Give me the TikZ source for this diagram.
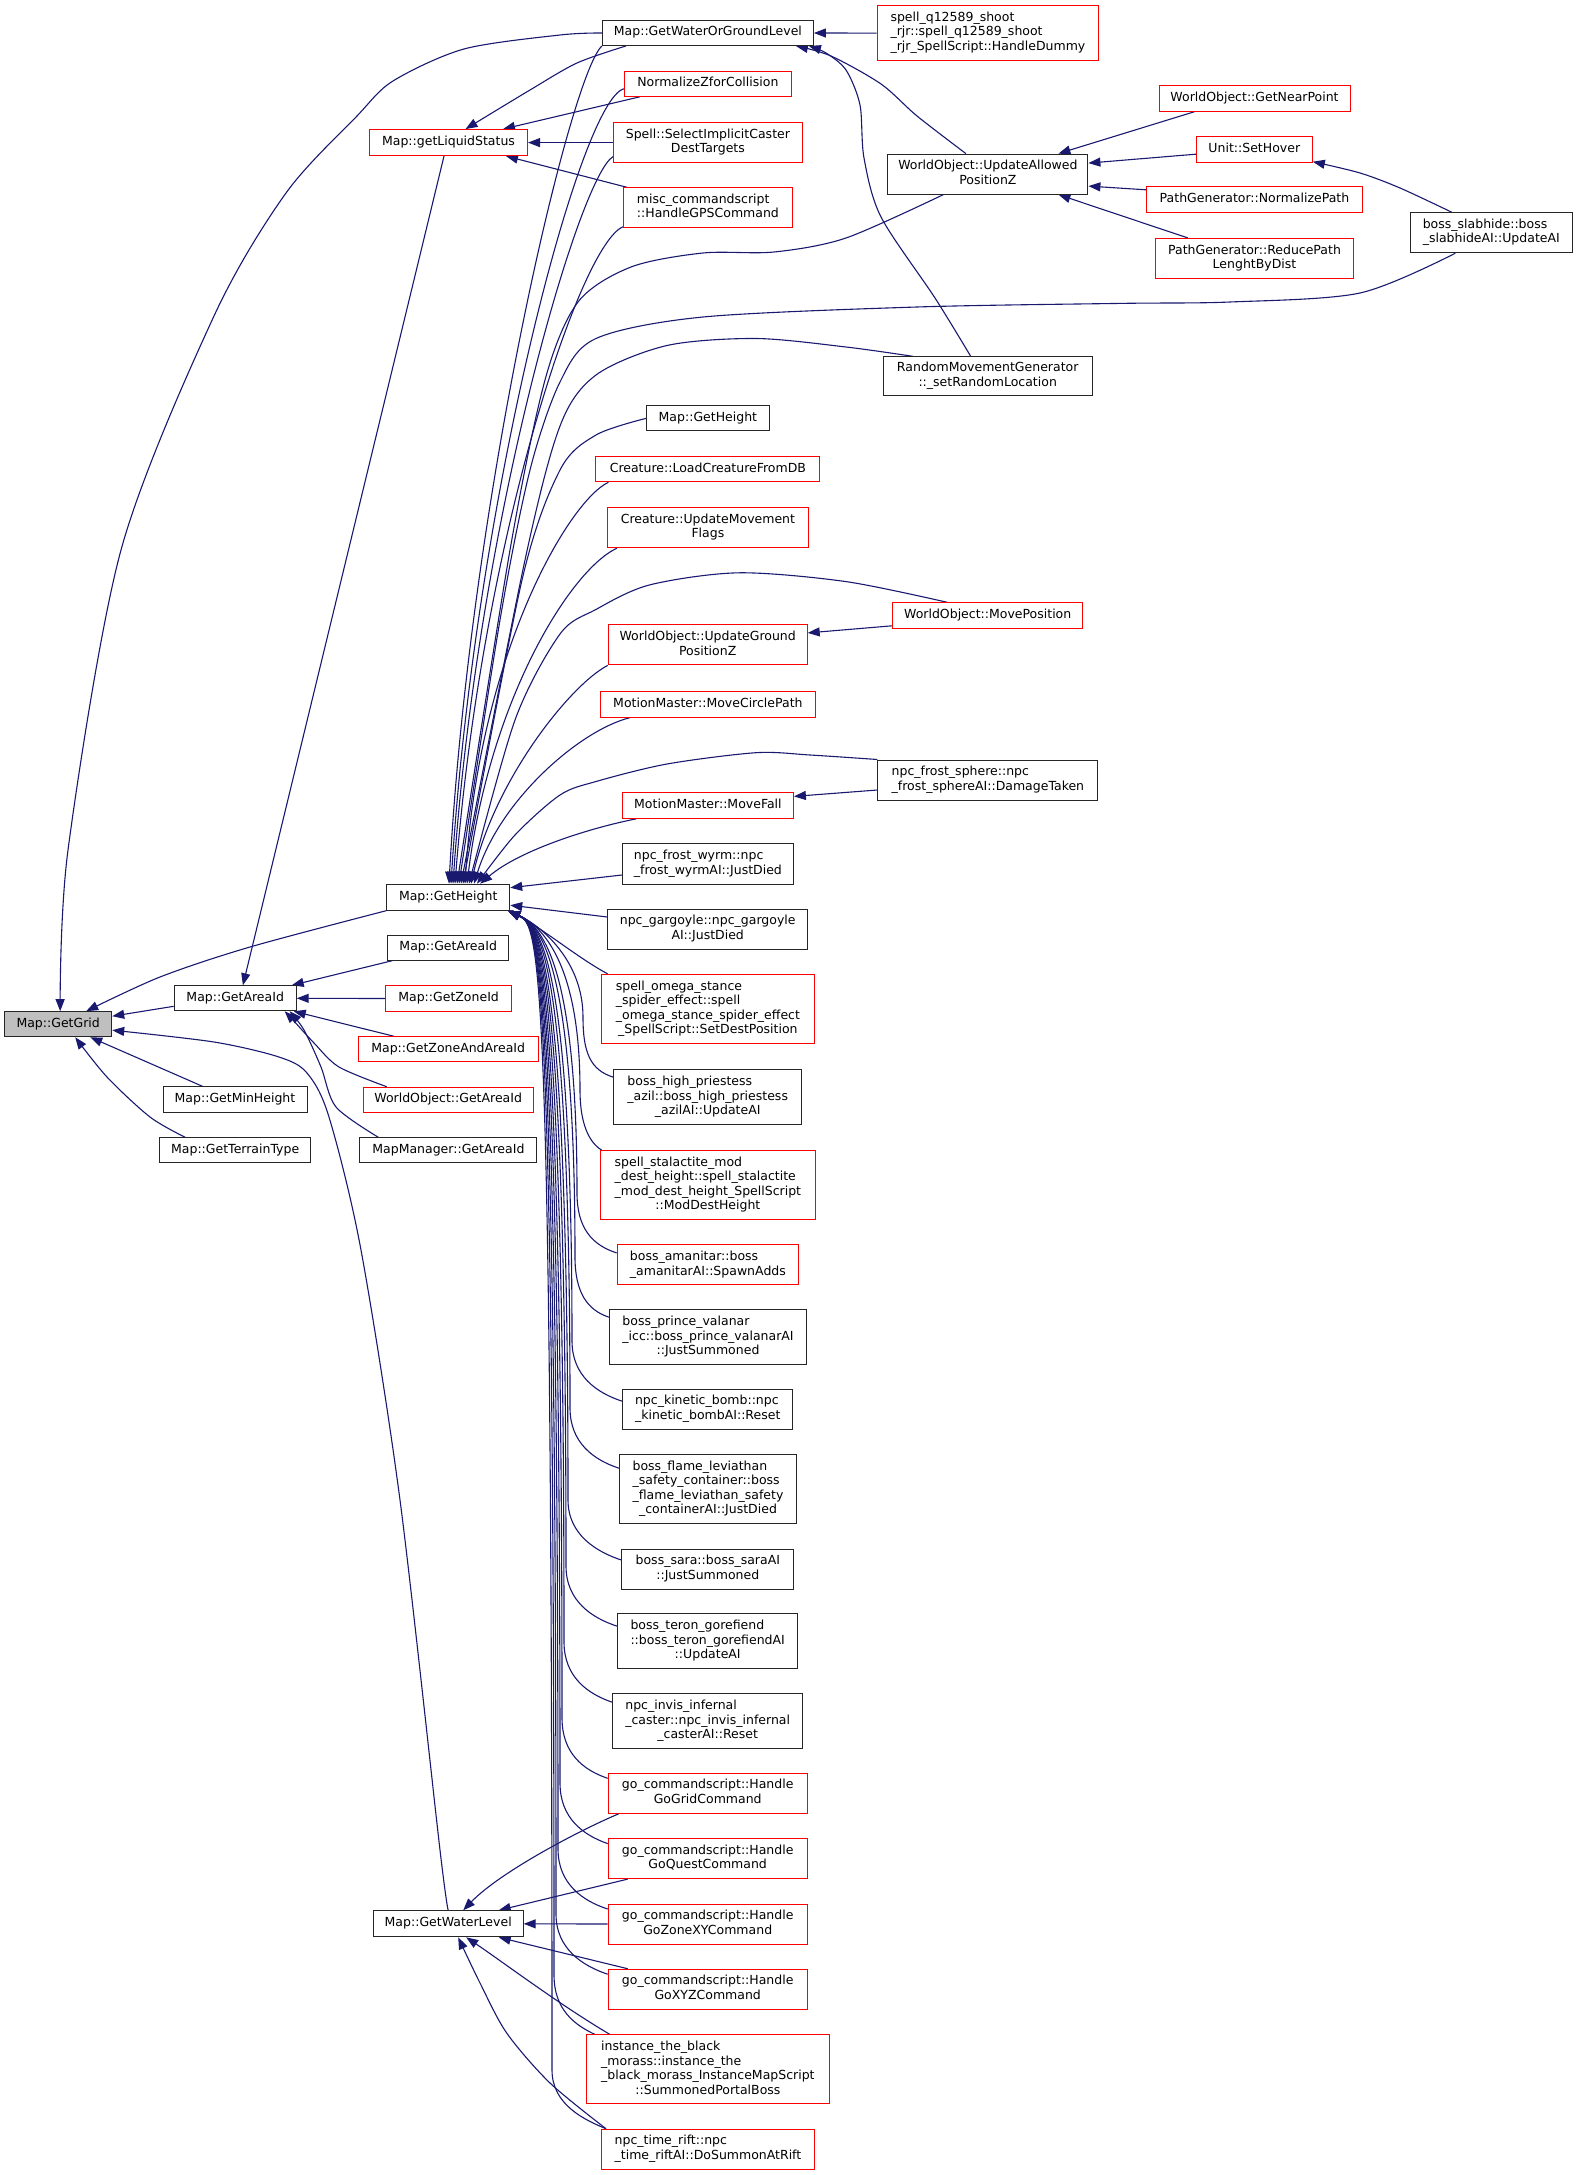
\documentclass[tikz,border=0pt]{standalone}
\usepackage{fontspec}
\setmainfont{DejaVu Sans}
\usetikzlibrary{arrows.meta,calc,backgrounds}
\definecolor{edgec}{HTML}{191970}
\definecolor{gfill}{HTML}{BFBFBF}
\newcommand\onel[1]{\begin{tabular}{@{}c@{}}#1\end{tabular}}
\newcommand\mlab[2]{\begin{tabular}{@{}l@{}}#1\\\multicolumn{1}{@{}c@{}}{#2}\end{tabular}}
\begin{document}
\begin{tikzpicture}[x=1pt,y=-1pt,
 every node/.style={font=\fontsize{12.5}{14.5}\selectfont, inner sep=0pt},
 kbox/.style={draw=black!85, line width=1pt, fill=white, rectangle},
 rbox/.style={draw=red, line width=1pt, fill=white, rectangle},
 sz/.style 2 args={minimum width=#1pt, minimum height=#2pt},
 edge/.style={draw=edgec, line width=1.1pt, -{Triangle[length=12pt,width=9pt]}}
]
\useasboundingbox (0,0) rectangle (1577,2175);
% column 1-3
\node[kbox, fill=gfill, sz={107}{25}] (gg) at (58.2,1024.2) {\onel{Map::GetGrid}};
\node[kbox, sz={122}{25}] (ga) at (235.2,998.3) {\onel{Map::GetAreaId}};
\node[kbox, sz={144}{26}] (gmh) at (235,1099.8) {\onel{Map::GetMinHeight}};
\node[kbox, sz={151}{25}] (gtt) at (235.2,1150.3) {\onel{Map::GetTerrainType}};
\node[rbox, sz={158}{26}] (gls) at (448.5,142.6) {\onel{Map::getLiquidStatus}};
\node[kbox, sz={123}{26}] (gh) at (448.2,897.2) {\onel{Map::GetHeight}};
\node[kbox, sz={121}{25}] (ga2) at (448.2,947.7) {\onel{Map::GetAreaId}};
\node[rbox, sz={126}{26}] (gz) at (448.6,998.5) {\onel{Map::GetZoneId}};
\node[rbox, sz={180}{25}] (gza) at (448.2,1049.2) {\onel{Map::GetZoneAndAreaId}};
\node[rbox, sz={170}{25}] (woga) at (448.2,1099.7) {\onel{WorldObject::GetAreaId}};
\node[kbox, sz={177}{25}] (mmga) at (448.4,1150.3) {\onel{MapManager::GetAreaId}};
\node[kbox, sz={150}{26}] (gwl) at (448.2,1923.8) {\onel{Map::GetWaterLevel}};
% column 4
\node[kbox, sz={211}{25}] (gwogl) at (707.9,33) {\onel{Map::GetWaterOrGroundLevel}};
\node[rbox, sz={167}{25}] (nzc) at (707.9,83.8) {\onel{NormalizeZforCollision}};
\node[rbox, sz={188.5}{40}] (sic) at (707.9,142.6) {\mlab{Spell::SelectImplicitCaster}{DestTargets}};
\node[rbox, sz={169}{40}] (misc) at (707.9,207.8) {\mlab{misc\_commandscript}{::HandleGPSCommand}};
\node[kbox, sz={123}{25}] (gh2) at (707.9,418.4) {\onel{Map::GetHeight}};
\node[rbox, sz={224}{25}] (lcdb) at (707.9,469.3) {\onel{Creature::LoadCreatureFromDB}};
\node[rbox, sz={201}{40}] (umf) at (707.9,527.7) {\mlab{Creature::UpdateMovement}{Flags}};
\node[rbox, sz={199}{40}] (ugpz) at (707.7,644.9) {\mlab{WorldObject::UpdateGround}{PositionZ}};
\node[rbox, sz={215}{26}] (mcp) at (707.9,704.2) {\onel{MotionMaster::MoveCirclePath}};
\node[rbox, sz={171}{26}] (mf) at (707.9,805.4) {\onel{MotionMaster::MoveFall}};
\node[kbox, sz={171}{41}] (nfw) at (707.9,864) {\mlab{npc\_frost\_wyrm::npc}{\_frost\_wyrmAI::JustDied}};
\node[kbox, sz={200}{40}] (ngar) at (707.7,929) {\mlab{npc\_gargoyle::npc\_gargoyle}{AI::JustDied}};
\node[rbox, sz={213.5}{69.5}] (som) at (707.9,1009.1) {\mlab{spell\_omega\_stance\\\_spider\_effect::spell\\\_omega\_stance\_spider\_effect}{\_SpellScript::SetDestPosition}};
\node[kbox, sz={187.5}{55}] (bhp) at (707.7,1097.2) {\mlab{boss\_high\_priestess\\\_azil::boss\_high\_priestess}{\_azilAI::UpdateAI}};
\node[rbox, sz={215}{69}] (sst) at (707.9,1185.3) {\mlab{spell\_stalactite\_mod\\\_dest\_height::spell\_stalactite\\\_mod\_dest\_height\_SpellScript}{::ModDestHeight}};
\node[rbox, sz={181.5}{40}] (bam) at (707.9,1264.9) {\mlab{boss\_amanitar::boss}{\_amanitarAI::SpawnAdds}};
\node[kbox, sz={197}{55}] (bpv) at (708,1337.2) {\mlab{boss\_prince\_valanar\\\_icc::boss\_prince\_valanarAI}{::JustSummoned}};
\node[kbox, sz={170}{40}] (nkb) at (707.7,1409.2) {\mlab{npc\_kinetic\_bomb::npc}{\_kinetic\_bombAI::Reset}};
\node[kbox, sz={177}{69}] (bfl) at (708,1489.2) {\mlab{boss\_flame\_leviathan\\\_safety\_container::boss\\\_flame\_leviathan\_safety}{\_containerAI::JustDied}};
\node[kbox, sz={172}{40}] (bsa) at (707.8,1569) {\mlab{boss\_sara::boss\_saraAI}{::JustSummoned}};
\node[kbox, sz={180}{55}] (btg) at (707.7,1641.2) {\mlab{boss\_teron\_gorefiend\\::boss\_teron\_gorefiendAI}{::UpdateAI}};
\node[kbox, sz={190}{55}] (nii) at (707.7,1721.2) {\mlab{npc\_invis\_infernal\\\_caster::npc\_invis\_infernal}{\_casterAI::Reset}};
\node[rbox, sz={199}{40}] (ggc) at (707.7,1793.3) {\mlab{go\_commandscript::Handle}{GoGridCommand}};
\node[rbox, sz={199}{40}] (gqc) at (707.7,1858.6) {\mlab{go\_commandscript::Handle}{GoQuestCommand}};
\node[rbox, sz={199}{40}] (gzc) at (707.7,1924) {\mlab{go\_commandscript::Handle}{GoZoneXYCommand}};
\node[rbox, sz={199}{40}] (gxc) at (707.7,1989.2) {\mlab{go\_commandscript::Handle}{GoXYZCommand}};
\node[rbox, sz={243}{69}] (ibm) at (707.9,2069.4) {\mlab{instance\_the\_black\\\_morass::instance\_the\\\_black\_morass\_InstanceMapScript}{::SummonedPortalBoss}};
\node[rbox, sz={213}{40}] (ntr) at (708,2149.2) {\mlab{npc\_time\_rift::npc}{\_time\_riftAI::DoSummonAtRift}};
% column 5-7
\node[rbox, sz={221.5}{55}] (sq) at (987.9,33.1) {\mlab{spell\_q12589\_shoot\\\_rjr::spell\_q12589\_shoot}{\_rjr\_SpellScript::HandleDummy}};
\node[kbox, sz={200}{40}] (uapz) at (987.9,174.1) {\mlab{WorldObject::UpdateAllowed}{PositionZ}};
\node[kbox, sz={209}{39}] (rmg) at (987.7,376.3) {\mlab{RandomMovementGenerator}{::\_setRandomLocation}};
\node[rbox, sz={190}{26}] (mp) at (987.7,615.8) {\onel{WorldObject::MovePosition}};
\node[kbox, sz={220}{40}] (nfs) at (987.9,780) {\mlab{npc\_frost\_sphere::npc}{\_frost\_sphereAI::DamageTaken}};
\node[rbox, sz={191}{26}] (gnp) at (1254.5,98.2) {\onel{WorldObject::GetNearPoint}};
\node[rbox, sz={116}{26}] (sh) at (1254.3,149.2) {\onel{Unit::SetHover}};
\node[rbox, sz={216}{26}] (np) at (1254.5,199.8) {\onel{PathGenerator::NormalizePath}};
\node[rbox, sz={198}{40}] (rp) at (1254.5,258.5) {\mlab{PathGenerator::ReducePath}{LenghtByDist}};
\node[kbox, sz={162}{40}] (bsh) at (1491.3,232.7) {\mlab{boss\_slabhide::boss}{\_slabhideAI::UpdateAI}};

\begin{pgfonlayer}{background}
% callers of GetGrid
\draw[edge] plot[smooth] coordinates {(gwogl.west) (560,35) (464,49) (393,81) (357,116) (286,193) (214,316) (121,550) (68,850) ($(gg.north)+(2,0)$)};
\draw[edge] plot[smooth] coordinates {(gh.south west) (250,947) (160,977) ($(gg.north)+(28,0)$)};
\draw[edge] ($(ga.west)+(0,8)$) -- ($(gg.east)+(0,-8)$);
\draw[edge] plot[smooth] coordinates {(gwl.north) (440,1850) (400,1500) (361,1250) (329,1117) (307,1073) (279,1057) (214,1042) ($(gg.east)+(0,6)$)};
\draw[edge] ($(gmh.north west)+(40,0)$) -- ($(gg.south)+(32,0)$);
\draw[edge] plot[smooth] coordinates {($(gtt.north west)+(26,0)$) (150,1117) (107,1077) ($(gg.south)+(17,0)$)};
% callers of GetAreaId
\draw[edge] ($(gls.south)+(-4.5,0)$) -- ($(ga.north)+(7.7,0)$);
\draw[edge] ($(ga2.south west)+(5,0)$) -- ($(ga.north east)+(-5,0)$);
\draw[edge] (gz.west) -- (ga.east);
\draw[edge] ($(gza.north west)+(36,0)$) -- ($(ga.south east)+(-3,0)$);
\draw[edge] plot[smooth] coordinates {($(woga.north west)+(24,0)$) (339,1067) (314,1043) (293,1020) ($(ga.south east)+(-12,0)$)};
\draw[edge] plot[smooth] coordinates {($(mmga.north west)+(19,0)$) (336,1107) (321,1067) (304,1030) ($(ga.south east)+(-7,0)$)};
% callers of getLiquidStatus
\draw[edge] plot[smooth] coordinates {($(gwogl.south west)+(24,0)$) (577,63) (530,90) ($(gls.north)+(17,0)$)};
\draw[edge] ($(nzc.south west)+(16,0)$) -- ($(gls.north east)+(-25,0)$);
\draw[edge] (sic.west) -- (gls.east);
\draw[edge] ($(misc.north west)+(4,0)$) -- ($(gls.south east)+(-22,0)$);
% callers of GetWaterOrGroundLevel
\draw[edge] (sq.west) -- (gwogl.east);
\draw[edge] plot[smooth] coordinates {($(uapz.north)+(-22,0)$) (917,116) (881,84) (831,56) ($(gwogl.south east)+(-18,0)$)};
\draw[edge] plot[smooth] coordinates {($(rmg.north)+(-17,0)$) (935,298) (881,217) (864,158) (860,105) (846,70) (826,53) ($(gwogl.south east)+(-5,0)$)};
% callers of UpdateAllowedPositionZ
\draw[edge] ($(gnp.south west)+(36,0)$) -- ($(uapz.north east)+(-30,0)$);
\draw[edge] ($(sh.west)+(0,5)$) -- ($(uapz.east)+(0,-11)$);
\draw[edge] ($(np.west)+(0,-10)$) -- ($(uapz.east)+(0,12)$);
\draw[edge] ($(rp.north west)+(33,0)$) -- ($(uapz.south east)+(-30,0)$);
\draw[edge] plot[smooth] coordinates {($(bsh.north)+(-39.6,0)$) (1400,188) (1360,173) ($(sh.south east)+(0,-1)$)};
\draw[edge] ($(mp.west)+(0,10)$) -- ($(ugpz.east)+(0,-12)$);
\draw[edge] ($(nfs.west)+(0,10)$) -- ($(mf.east)+(0,-9)$);
% callers of GetHeight (from above)
\draw[edge] (gwogl.south west) .. controls (570,75) and (470,500) .. ($(gh.north)+(0.8,0)$);
\draw[edge] ($(nzc.west)+(0,5)$) .. controls (580,100) and (475,500) .. ($(gh.north)+(2.8,0)$);
\draw[edge] ($(sic.west)+(0,14)$) .. controls (580,175) and (478,520) .. ($(gh.north)+(4.8,0)$);
\draw[edge] ($(misc.west)+(0,19)$) .. controls (580,245) and (482,540) .. ($(gh.north)+(6.8,0)$);
\draw[edge] plot[smooth] coordinates {($(uapz.south west)+(56,0)$) (846,238) (774,252) (703,253) (631,267) (578,302) (545,380) (510,550) ($(gh.north)+(8.8,0)$)};
\draw[edge] plot[smooth] coordinates {($(bsh.south)+(-36,0)$) (1360,293) (1230,302) (1120,303.4) (917,307) (703,317) (596,338.5) (560,382) (530,470) (500,620) ($(gh.north)+(10.8,0)$)};
\draw[edge] plot[smooth] coordinates {($(rmg.north west)+(30,0)$) (846,347) (756,338.5) (667,345.5) (596,375) (560,426) (525,560) ($(gh.north)+(12.8,0)$)};
\draw[edge] plot[smooth] coordinates {(gh2.west) (596,435) (560,470) (522,580) ($(gh.north)+(14.8,0)$)};
\draw[edge] ($(lcdb.south west)+(13,0)$) .. controls (570,500) and (480,650) .. ($(gh.north)+(16.8,0)$);
\draw[edge] ($(umf.south west)+(10,0)$) .. controls (570,570) and (490,700) .. ($(gh.north)+(18.8,0)$);
\draw[edge] plot[smooth] coordinates {($(mp.north west)+(55,0)$) (846,581.6) (738.6,572.8) (649.3,585) (595.7,609.6) (560,634) (515,720) ($(gh.north)+(20.8,0)$)};
\draw[edge] (ugpz.south west) .. controls (570,685) and (495,780) .. ($(gh.north)+(22.8,0)$);
\draw[edge] ($(mcp.south west)+(30,0)$) .. controls (580,730) and (500,800) .. ($(gh.north)+(25.8,0)$);
\draw[edge] plot[smooth] coordinates {(nfs.north west) (810,755) (756,752.7) (667,764) (596,781.5) (560,795) (515,835) ($(gh.north)+(28.8,0)$)};
\draw[edge] ($(mf.south west)+(14,0)$) .. controls (590,828) and (520,850) .. ($(gh.north)+(32,0)$);
\draw[edge] ($(nfw.west)+(0,11)$) -- ($(gh.east)+(0,-9.5)$);
\draw[edge] ($(ngar.west)+(0,-12)$) -- ($(gh.east)+(0,8)$);
% callers of GetHeight (from below)
\draw[edge] ($(som.north west)+(7,0)$) .. controls (578,958) and (545,930) .. ($(gh.south east)+(-2,0)$);
\draw[edge] ($(bhp.west)+(0,-20)$) .. controls (590,1070) and (583,1052) .. (583,1017) .. controls (583,960) and (540,925) .. ($(gh.south east)+(-2,0)$);
\draw[edge] ($(sst.north west)+(2,0)$) .. controls (585,1140) and (580,1115) .. (580,1090) .. controls (580,960) and (540,925) .. ($(gh.south east)+(-2,0)$);
\draw[edge] ($(bam.west)+(0,-12)$) .. controls (592,1245) and (577,1228) .. (577,1193) .. controls (577,960) and (540,925) .. ($(gh.south east)+(-2,0)$);
\draw[edge] ($(bpv.west)+(0,-20)$) .. controls (587,1310) and (575,1292) .. (575,1257) .. controls (575,960) and (540,925) .. ($(gh.south east)+(-2,0)$);
\draw[edge] ($(nkb.west)+(0,-8)$) .. controls (597,1393) and (572,1376) .. (572,1341) .. controls (572,960) and (540,925) .. ($(gh.south east)+(-2,0)$);
\draw[edge] ($(bfl.west)+(0,-21)$) .. controls (594,1460) and (570,1443) .. (570,1408) .. controls (570,960) and (540,925) .. ($(gh.south east)+(-2,0)$);
\draw[edge] ($(bsa.west)+(0,-9)$) .. controls (597,1552) and (568,1535) .. (568,1500) .. controls (568,960) and (540,925) .. ($(gh.south east)+(-2,0)$);
\draw[edge] ($(btg.west)+(0,-15)$) .. controls (592,1618) and (566,1601) .. (566,1566) .. controls (566,960) and (540,925) .. ($(gh.south east)+(-2,0)$);
\draw[edge] ($(nii.west)+(0,-19)$) .. controls (588,1694) and (564,1677) .. (564,1642) .. controls (564,960) and (540,925) .. ($(gh.south east)+(-2,0)$);
\draw[edge] ($(ggc.west)+(0,-15)$) .. controls (583,1770) and (562,1753) .. (562,1718) .. controls (562,960) and (540,925) .. ($(gh.south east)+(-2,0)$);
\draw[edge] ($(gqc.west)+(0,-15)$) .. controls (583,1835) and (560,1818) .. (560,1783) .. controls (560,960) and (540,925) .. ($(gh.south east)+(-2,0)$);
\draw[edge] ($(gzc.west)+(0,-15)$) .. controls (583,1901) and (558,1884) .. (558,1849) .. controls (558,960) and (540,925) .. ($(gh.south east)+(-2,0)$);
\draw[edge] ($(gxc.west)+(0,-15)$) .. controls (583,1966) and (556,1949) .. (556,1914) .. controls (556,960) and (540,925) .. ($(gh.south east)+(-2,0)$);
\draw[edge] ($(ibm.north west)+(9,0)$) .. controls (575,2025) and (554,2010) .. (554,1975) .. controls (554,960) and (540,925) .. ($(gh.south east)+(-2,0)$);
\draw[edge] ($(ntr.north west)+(5,0)$) .. controls (585,2120) and (552,2105) .. (552,2070) .. controls (552,960) and (540,925) .. ($(gh.south east)+(-2,0)$);
% callers of GetWaterLevel
\draw[edge] ($(ggc.south west)+(11,0)$) .. controls (580,1830) and (500,1872) .. ($(gwl.north)+(15,0)$);
\draw[edge] ($(gqc.south west)+(20,0)$) -- ($(gwl.north east)+(-25,0)$);
\draw[edge] (gzc.west) -- (gwl.east);
\draw[edge] ($(gxc.north west)+(20,0)$) -- ($(gwl.south east)+(-25,0)$);
\draw[edge] ($(ibm.north west)+(24,0)$) .. controls (560,2005) and (500,1960) .. ($(gwl.south)+(18,0)$);
\draw[edge] plot[smooth] coordinates {($(ntr.north west)+(5,0)$) (550,2083) (506.7,2033) (480,1983) ($(gwl.south)+(10,0)$)};
\end{pgfonlayer}
\end{tikzpicture}
\end{document}
